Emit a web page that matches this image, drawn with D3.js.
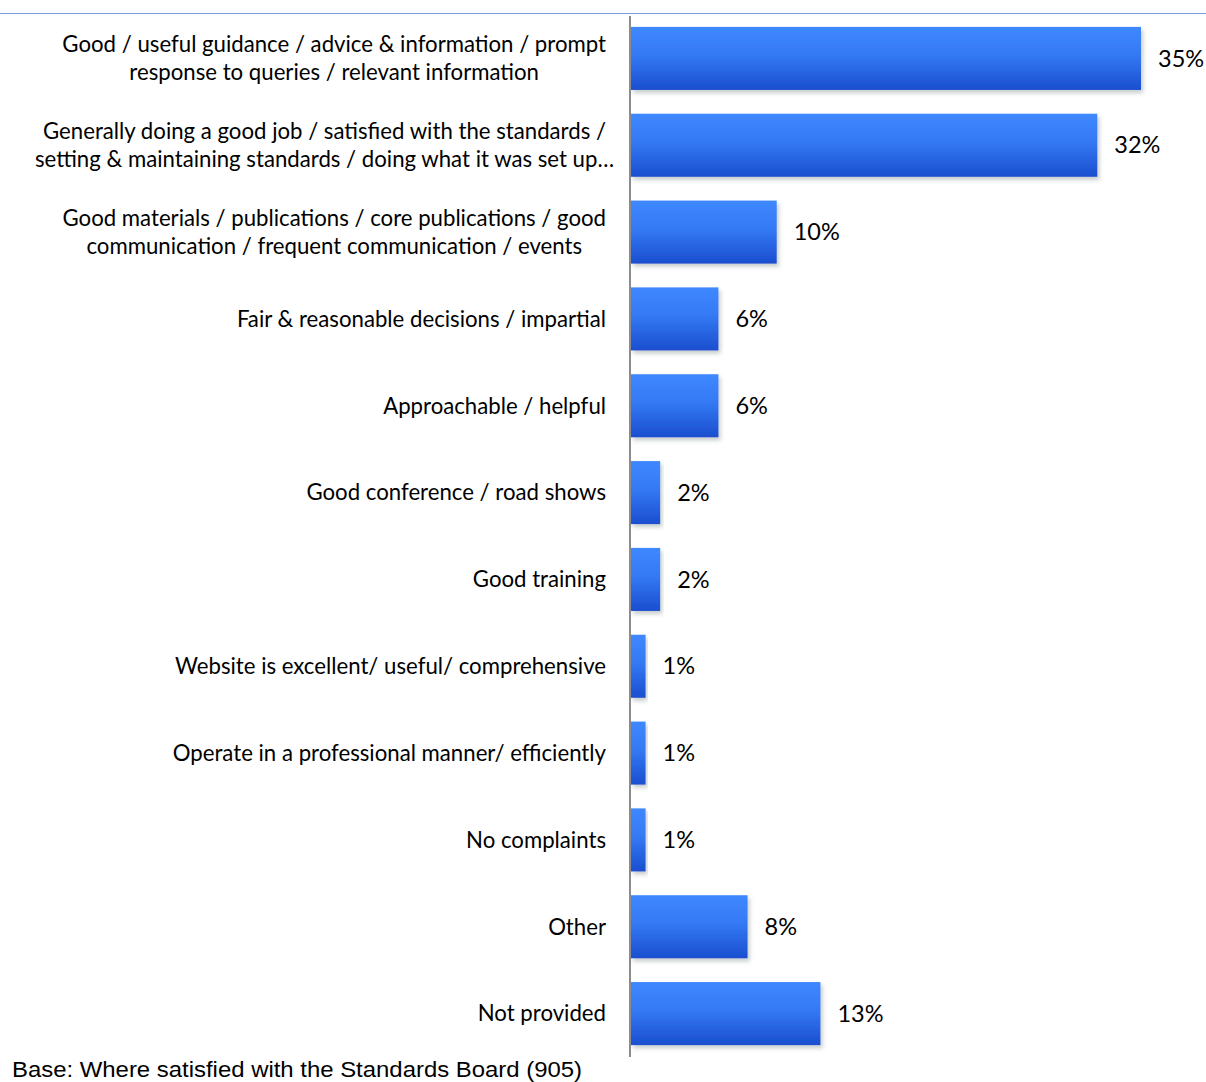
<!DOCTYPE html>
<html>
<head>
<meta charset="utf-8">
<script src="https://cdn.jsdelivr.net/npm/d3@7/dist/d3.min.js"></script>
<style>
  html, body { margin: 0; padding: 0; background: #fff; }
  svg { display: block; }
</style>
</head>
<body>
<svg id="chart" width="1206" height="1082"></svg>
<script>
// Reasons given for satisfaction with the Standards Board
const categories = [
  ["Good / useful guidance / advice & information / prompt", "response to queries / relevant information"],
  ["Generally doing a good job / satisfied with the standards /", "setting & maintaining standards / doing what it was set up\u2026"],
  ["Good materials / publications / core publications / good", "communication / frequent communication / events"],
  ["Fair & reasonable decisions / impartial"],
  ["Approachable / helpful"],
  ["Good conference / road shows"],
  ["Good training"],
  ["Website is excellent/ useful/ comprehensive"],
  ["Operate in a professional manner/ efficiently"],
  ["No complaints"],
  ["Other"],
  ["Not provided"]
];
const values = [35, 32, 10, 6, 6, 2, 2, 1, 1, 1, 8, 13];
const footnote = "Base: Where satisfied with the Standards Board (905)";

const svg = d3.select("#chart");
const ids = d3.range(values.length);

const x = d3.scaleLinear().domain([0, 35]).range([631, 1141]);
const y = d3.scaleBand().domain(ids).range([15, 1057]).paddingInner(0.274).paddingOuter(0.137);

const defs = svg.append("defs");
const grad = defs.append("linearGradient")
  .attr("id", "barFill").attr("x1", 0).attr("y1", 0).attr("x2", 0).attr("y2", 1);
grad.append("stop").attr("offset", "0%").attr("stop-color", "#3f88ff");
grad.append("stop").attr("offset", "45%").attr("stop-color", "#3479f4");
grad.append("stop").attr("offset", "100%").attr("stop-color", "#1a4ecf");

const shadow = defs.append("filter").attr("id", "barShadow")
  .attr("x", "-5%").attr("y", "-10%").attr("width", "115%").attr("height", "130%");
shadow.append("feDropShadow").attr("dx", 2).attr("dy", 3).attr("stdDeviation", 2)
  .attr("flood-color", "#5a6a6a").attr("flood-opacity", 0.35);

// top rule
svg.append("line")
  .attr("x1", 0).attr("x2", 1206).attr("y1", 13.5).attr("y2", 13.5)
  .attr("stroke", "#7a9bd8").attr("stroke-width", 1);

// bars
svg.append("g").selectAll("rect")
  .data(ids)
  .join("rect")
  .attr("x", x(0))
  .attr("y", i => y(i))
  .attr("width", i => x(values[i]) - x(0))
  .attr("height", y.bandwidth())
  .attr("fill", "url(#barFill)")
  .attr("filter", "url(#barShadow)");

// vertical category axis line
svg.append("line")
  .attr("x1", 630).attr("x2", 630).attr("y1", 16).attr("y2", 1057)
  .attr("stroke", "#8c8c8c").attr("stroke-width", 2);

const labelFont = "Lato, 'Open Sans', sans-serif";
const labelRight = 606;

// category labels: single lines right-aligned, wrapped labels centred as a block
const lab = svg.append("g")
  .attr("font-family", labelFont).attr("font-size", 22.2).attr("fill", "#000");
ids.forEach(i => {
  const lines = categories[i];
  const cy = y(i) + y.bandwidth() / 2;
  const lh = 28.5;
  const texts = lines.map((t, k) => lab.append("text")
    .attr("y", cy + (k - (lines.length - 1) / 2) * lh)
    .attr("dy", "0.35em")
    .text(t));
  if (lines.length === 1) {
    texts[0].attr("x", labelRight).attr("text-anchor", "end");
  } else {
    const w0 = texts[0].node().getComputedTextLength();
    const cx = labelRight - w0 / 2;
    texts.forEach(t => t.attr("x", cx).attr("text-anchor", "middle"));
  }
});

// value labels
svg.append("g")
  .attr("font-family", labelFont).attr("font-size", 23.5).attr("fill", "#000")
  .selectAll("text")
  .data(ids)
  .join("text")
  .attr("x", i => x(values[i]) + 17)
  .attr("y", i => y(i) + y.bandwidth() / 2)
  .attr("dy", "0.35em")
  .text(i => values[i] + "%");

// footnote
svg.append("text")
  .attr("x", 12).attr("y", 1077)
  .attr("font-family", "'Liberation Sans', Arial, sans-serif")
  .attr("font-size", 22).attr("fill", "#000")
  .attr("textLength", 570).attr("lengthAdjust", "spacingAndGlyphs")
  .text(footnote);
</script>
</body>
</html>
